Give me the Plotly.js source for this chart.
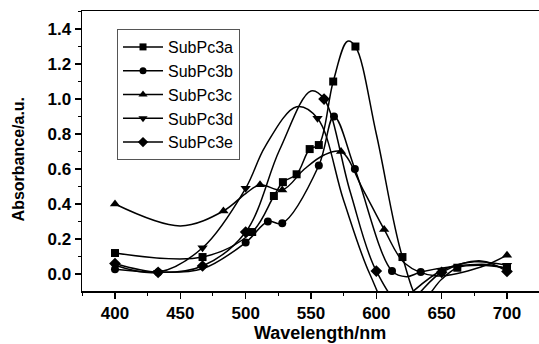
<!DOCTYPE html>
<html><head><meta charset="utf-8">
<script src="https://cdn.plot.ly/plotly-3.0.1.min.js"></script>
<style>html,body{margin:0;padding:0;background:#fff}#chart{width:539px;height:344px}</style>
</head><body><div id="chart"></div>
<script>
const seriesNames = ['SubPc3a','SubPc3b','SubPc3c','SubPc3d','SubPc3e'];
const symbols = ['square','circle','triangle-up','triangle-down','diamond'];
const markerSizes = [8,8,9,9,9];

// marker points (wavelength nm, absorbance)
const aX = [400,467,505,521.6,528.5,539,549,556,567,584,620,662,700];
const aY = [0.12,0.097,0.24,0.446,0.525,0.57,0.714,0.737,1.10,1.30,0.097,0.036,0.035];
const bX = [400,433,500,517,528,556,567.6,583.6,612,634,700];
const bY = [0.027,0.01,0.18,0.30,0.29,0.62,0.90,0.60,0.017,0.011,0.03];
const cX = [400,483,511,528,573,606,700];
const cY = [0.40,0.36,0.51,0.48,0.70,0.255,0.108];
const dX = [400,433,467,500,555,650,700];
const dY = [0.05,0.01,0.15,0.49,0.89,0.02,0.05];
const eX = [400,433,467,500,560,600,650,700];
const eY = [0.06,0.01,0.046,0.24,1.00,0.017,0.01,0.015];

// additional points (no marker)
const aCX = [578,600,634,650,680];
const aCY = [1.33,0.80,-0.15,-0.03,0.05];
const bCX = [467,623,660,685];
const bCY = [0.03,-0.015,0.045,0.055];
const cCX = [450,500,545,560,590,622,645,680];
const cCY = [0.275,0.46,0.60,0.68,0.48,0.06,-0.01,0.04];
const dCX = [515,539,575,595,612,628,675];
const dCY = [0.73,0.956,0.42,0.0,-0.22,-0.10,0.07];
const eCX = [526,550,580,620,680];
const eCY = [0.71,1.046,0.47,-0.17,0.075];

const xTickVals = [400,450,500,550,600,650,700];
const yTickVals = [0.0,0.2,0.4,0.6,0.8,1.0,1.2,1.4];

const markerSets = [[aX,aY],[bX,bY],[cX,cY],[dX,dY],[eX,eY]];
const curveSets = [[aCX,aCY],[bCX,bCY],[cCX,cCY],[dCX,dCY],[eCX,eCY]];

function merge(mx,my,cx,cy){
  const pts = [];
  mx.forEach((v,i)=>pts.push([v,my[i]]));
  cx.forEach((v,i)=>pts.push([v,cy[i]]));
  pts.sort((p,q)=>p[0]-q[0]);
  return [pts.map(p=>p[0]), pts.map(p=>p[1])];
}

const traces = [];
seriesNames.forEach((name,i)=>{
  const [mx,my] = markerSets[i];
  const [cx,cy] = curveSets[i];
  const [lx,ly] = merge(mx,my,cx,cy);
  traces.push({x:lx,y:ly,mode:'lines',line:{color:'#000',width:1.5,shape:'spline',smoothing:1},showlegend:false,hoverinfo:'skip'});
  traces.push({x:mx,y:my,mode:'markers',marker:{symbol:symbols[i],size:markerSizes[i],color:'#000'},showlegend:false});
});
seriesNames.forEach((name,i)=>{
  traces.push({x:[null],y:[null],name:name,mode:'lines+markers',line:{color:'#000',width:1.5},marker:{symbol:symbols[i],size:markerSizes[i]-1,color:'#000'}});
});

const tickFont = {family:'Arial, Liberation Sans, sans-serif',size:17,color:'#000',weight:'bold'};
const layout = {
  width:539,height:344,
  margin:{l:82,r:0,t:11,b:53},
  paper_bgcolor:'#fff',plot_bgcolor:'#fff',
  showlegend:true,
  legend:{x:0.0766,y:0.9357,xanchor:'left',yanchor:'top',bgcolor:'#fff',bordercolor:'#555',borderwidth:1,
    font:{family:'Arial, Liberation Sans, sans-serif',size:16,color:'#000'},tracegroupgap:0,itemwidth:40},
  xaxis:{range:[374.75,724.5],tickmode:'array',tickvals:xTickVals,ticks:'outside',ticklen:6,tickwidth:1.5,tickcolor:'#000',
    showline:true,linewidth:1.5,linecolor:'#000',mirror:true,showgrid:false,zeroline:false,tickfont:tickFont,
    minor:{dtick:25,tick0:375,ticks:'outside',ticklen:3,tickwidth:1,tickcolor:'#000',showgrid:false}},
  yaxis:{range:[-0.097,1.503],tickmode:'array',tickvals:yTickVals,tickformat:'.1f',ticks:'outside',ticklen:6,tickwidth:1.5,tickcolor:'#000',
    showline:true,linewidth:1.5,linecolor:'#000',mirror:false,showgrid:false,zeroline:false,tickfont:tickFont,
    minor:{dtick:0.1,tick0:0,ticks:'outside',ticklen:3,tickwidth:1,tickcolor:'#000',showgrid:false}},
  annotations:[
    {text:'Wavelength/nm',xref:'paper',yref:'paper',x:0.52,y:-0.15,xanchor:'center',yanchor:'middle',showarrow:false,
      font:{family:'Arial, Liberation Sans, sans-serif',size:18,color:'#000',weight:'bold'}},
    {text:'Absorbance/a.u.',xref:'paper',yref:'paper',x:-0.14,y:0.47,xanchor:'center',yanchor:'middle',textangle:-90,showarrow:false,
      font:{family:'Arial, Liberation Sans, sans-serif',size:16,color:'#000',weight:'bold'}}
  ]
};
Plotly.newPlot('chart',traces,layout,{displayModeBar:false,staticPlot:true});
</script></body></html>
